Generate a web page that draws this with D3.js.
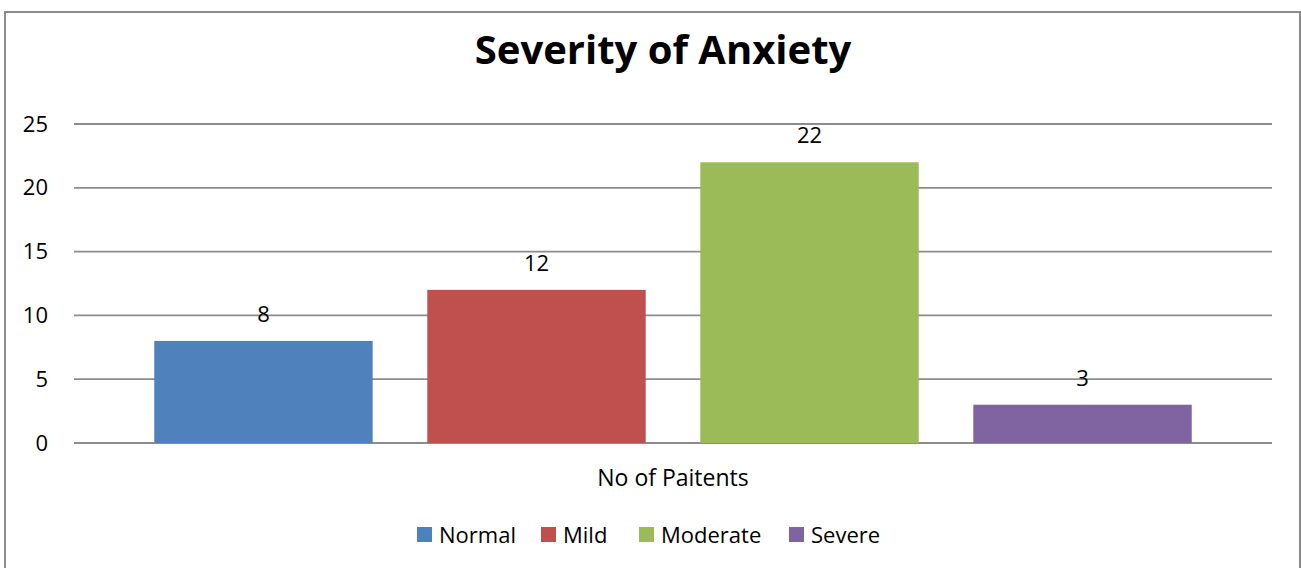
<!DOCTYPE html>
<html>
<head>
<meta charset="utf-8">
<script src="https://cdn.jsdelivr.net/npm/d3@7"></script>
<style>
  body { margin: 0; background: #fff; }
  svg { display: block; font-family: "Open Sans", "Noto Sans", sans-serif; }
</style>
</head>
<body>
<div id="chart"></div>
<script>
'use strict'
var categories = ["No of Paitents"];
var seriesNames = ["Normal", "Mild", "Moderate", "Severe"];
var seriesValues = [8, 12, 22, 3];
var seriesColors = ["#4f81bd", "#c0504d", "#9bbb59", "#8064a2"];
var yTicks = [0, 5, 10, 15, 20, 25];

var width = 1301, height = 568;
var plot = { left: 74, right: 1272, top: 124, bottom: 443 };

var svg = d3.select("#chart").append("svg")
    .attr("width", width)
    .attr("height", height);

// outer frame
svg.append("rect")
    .attr("x", 5).attr("y", 12)
    .attr("width", 1295).attr("height", 570)
    .attr("fill", "#fff")
    .attr("stroke", "#8c8c8c")
    .attr("stroke-width", 2);

svg.append("text")
    .attr("x", 663).attr("y", 64)
    .attr("text-anchor", "middle")
    .attr("font-size", 40)
    .attr("font-weight", "bold")
    .attr("fill", "#000")
    .text("Severity of Anxiety");

var y = d3.scaleLinear().domain([0, 25]).range([plot.bottom, plot.top]);

var x0 = d3.scaleBand().domain(categories).range([plot.left, plot.right]);
var x1 = d3.scaleBand().domain(seriesNames)
    .range([0, x0.bandwidth()])
    .paddingInner(0.2)
    .paddingOuter(0.294);

// gridlines
svg.append("g")
    .selectAll("line")
    .data(yTicks)
    .enter()
    .append("line")
    .attr("x1", plot.left).attr("x2", plot.right)
    .attr("y1", function(d) { return y(d); })
    .attr("y2", function(d) { return y(d); })
    .attr("stroke", "#8c8c8c")
    .attr("stroke-width", 1.8);

// y axis labels
var yAxis = d3.axisLeft(y).tickValues(yTicks).tickSize(0).tickPadding(0);
var yg = svg.append("g")
    .attr("transform", "translate(" + 48 + ",0)")
    .call(yAxis);
yg.select(".domain").remove();
yg.selectAll("text")
    .attr("font-size", 22)
    .attr("font-family", "Open Sans, sans-serif")
    .attr("fill", "#000");

// bars
var group = svg.append("g").selectAll("g")
    .data(categories)
    .enter()
    .append("g")
    .attr("transform", function(d) { return "translate(" + x0(d) + ",0)"; });

group.selectAll("rect")
    .data(seriesNames.map(function(n, i) { return { name: n, value: seriesValues[i], color: seriesColors[i] }; }))
    .enter()
    .append("rect")
    .attr("x", function(d) { return x1(d.name); })
    .attr("width", x1.bandwidth())
    .attr("y", function(d) { return y(d.value); })
    .attr("height", function(d) { return y(0) - y(d.value); })
    .attr("fill", function(d) { return d.color; });

group.selectAll("text")
    .data(seriesNames.map(function(n, i) { return { name: n, value: seriesValues[i] }; }))
    .enter()
    .append("text")
    .attr("x", function(d) { return x1(d.name) + x1.bandwidth() / 2; })
    .attr("y", function(d) { return y(d.value) - 19; })
    .attr("text-anchor", "middle")
    .attr("font-size", 22)
    .attr("fill", "#000")
    .text(function(d) { return d.value; });

// category axis label
svg.append("g").selectAll("text")
    .data(categories)
    .enter()
    .append("text")
    .attr("x", function(d) { return x0(d) + x0.bandwidth() / 2; })
    .attr("y", 486)
    .attr("text-anchor", "middle")
    .attr("font-size", 23)
    .attr("fill", "#000")
    .text(function(d) { return d; });

// legend
var legendX = [417, 541, 639, 789];
var legend = svg.append("g").selectAll("g")
    .data(seriesNames)
    .enter()
    .append("g")
    .attr("transform", function(d, i) { return "translate(" + legendX[i] + ",527)"; });

legend.append("rect")
    .attr("width", 15).attr("height", 15)
    .attr("fill", function(d, i) { return seriesColors[i]; });

legend.append("text")
    .attr("x", 22).attr("y", 16)
    .attr("font-size", 22)
    .attr("fill", "#000")
    .text(function(d) { return d; });
</script>
</body>
</html>
